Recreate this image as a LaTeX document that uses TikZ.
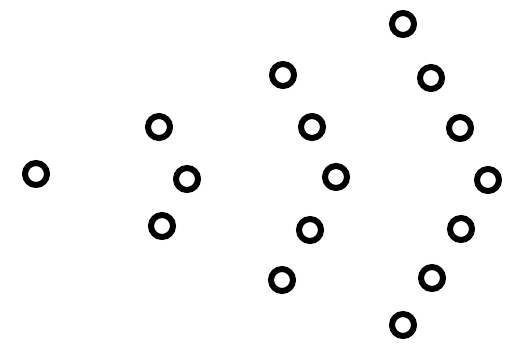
\documentclass[tikz,border=0pt]{standalone}
\usetikzlibrary{positioning}

\begin{document}
\begin{tikzpicture}[x=1pt,y=-1pt,
ring/.style={draw,circle,line width=6pt,minimum size=22pt,inner sep=0pt}]
\useasboundingbox(0,0)rectangle(508,346);
% single
\node[ring](a1)at(36,174){};
% group of three
\node[ring](b1)at(159,127){};
\node[ring](b2)at(187,179){};
\node[ring](b3)at(162,226){};
% group of five
\node[ring](c1)at(283,75){};
\node[ring](c2)at(312,127){};
\node[ring](c3)at(336,177){};
\node[ring](c4)at(310,230){};
\node[ring](c5)at(282,280){};
% group of seven
\node[ring](d1)at(403,24){};
\node[ring](d2)at(431,78){};
\node[ring](d3)at(460,128){};
\node[ring](d4)at(488,180){};
\node[ring](d5)at(461,229){};
\node[ring](d6)at(432,278){};
\node[ring](d7)at(403,325){};
\end{tikzpicture}
\end{document}
